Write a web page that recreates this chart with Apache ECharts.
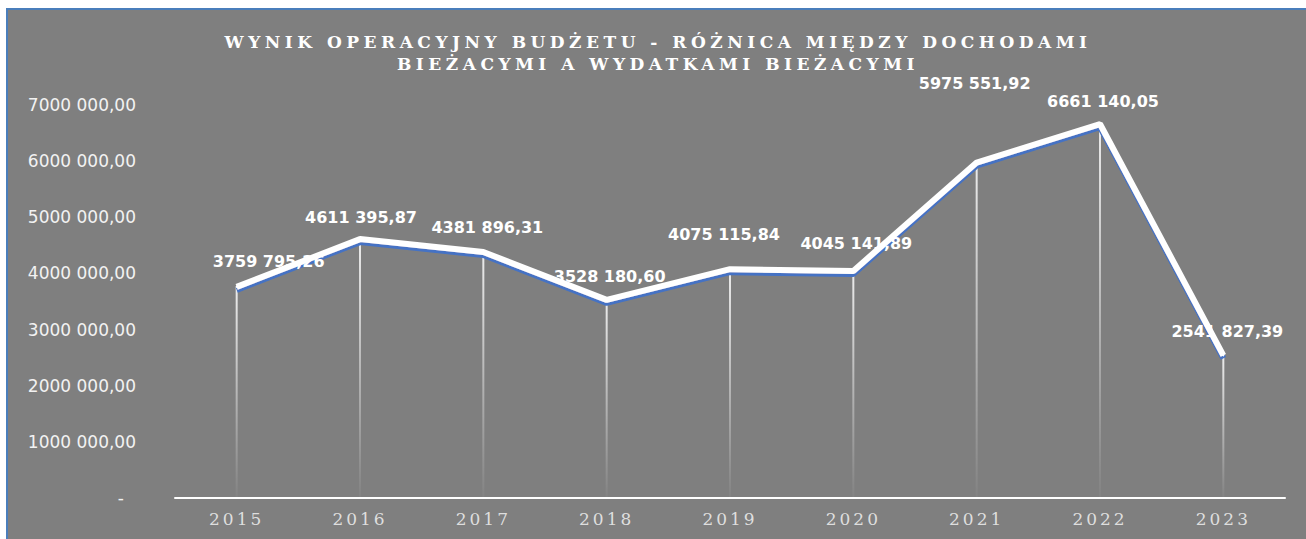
<!DOCTYPE html>
<html>
<head>
<meta charset="utf-8">
<script src="https://cdn.jsdelivr.net/npm/echarts@6/dist/echarts.min.js"></script>
<style>
  html, body { margin: 0; padding: 0; background: #ffffff; overflow: hidden; }
  #chart {
    position: absolute; left: 6px; top: 8px;
    width: 1300px; height: 531px;
    border-top: 2px solid #4a7ebb; border-left: 2px solid #4a7ebb;
    background: #7f7f7f;
  }
</style>
</head>
<body>
<div id="chart"></div>
<script>
  // dane z wykresu
  var years = ['2015', '2016', '2017', '2018', '2019', '2020', '2021', '2022', '2023'];
  var wynik = [3759795.26, 4611395.87, 4381896.31, 3528180.60, 4075115.84, 4045141.89, 5975551.92, 6661140.05, 2541827.39];
  // przesuniecia etykiet danych [dx, dy]
  var labelOffsets = [[32, -16], [1, -13], [4, -15], [3, -14], [-6, -26], [3, -18], [-2, -70], [3, -14], [4, -15]];

  function fmt(v) {
    if (v === 0) return '-';
    var n = Math.round(v * 100);
    var dec = String(n % 100).padStart(2, '0');
    var intPart = Math.floor(n / 100);
    var thousands = Math.floor(intPart / 1000);
    var rest = String(intPart % 1000).padStart(3, '0');
    return thousands + ' ' + rest + ',' + dec;
  }

  var myChart = echarts.init(document.getElementById('chart'), null, { renderer: 'svg' });
  myChart.setOption({
    backgroundColor: '#7f7f7f',
    animation: false,
    title: {
      text: 'WYNIK OPERACYJNY BUDŻETU - RÓŻNICA MIĘDZY DOCHODAMI\nBIEŻACYMI A WYDATKAMI BIEŻACYMI',
      left: 'center',
      top: 16,
      textStyle: {
        color: '#ffffff',
        fontFamily: 'DejaVu Serif',
        fontWeight: 'bold',
        fontSize: 17,
        lineHeight: 22
      }
    },
    grid: {
      left: 167,
      right: 23,
      top: 95,
      bottom: 43
    },
    xAxis: {
      type: 'category',
      data: years,
      boundaryGap: true,
      axisLine: { lineStyle: { color: '#ffffff', width: 2 } },
      axisTick: { show: false },
      axisLabel: {
        color: '#dedede',
        fontFamily: 'DejaVu Serif',
        fontSize: 17,
        margin: 12
      }
    },
    yAxis: {
      type: 'value',
      min: 0,
      max: 7000000,
      interval: 1000000,
      splitLine: { show: false },
      axisLine: { show: false },
      axisTick: { show: false },
      axisLabel: {
        color: '#f2f2f2',
        fontFamily: 'DejaVu Sans',
        fontSize: 17,
        margin: 39,
        formatter: function (v) {
          return v === 0 ? '{z|-}' : fmt(v);
        },
        rich: {
          z: { color: '#f2f2f2', fontSize: 17, padding: [0, 12, 0, 0] }
        }
      }
    },
    series: [
      {
        // linie pionowe od punktu do osi
        name: 'linie',
        type: 'bar',
        barWidth: 2,
        data: wynik,
        itemStyle: {
          color: new echarts.graphic.LinearGradient(0, 0, 0, 1, [
            { offset: 0, color: 'rgba(255,255,255,0.85)' },
            { offset: 1, color: 'rgba(255,255,255,0.03)' }
          ])
        },
        silent: true,
        z: 1
      },
      {
        name: 'Wynik',
        type: 'line',
        data: wynik.map(function (v, i) {
          return {
            value: v,
            label: { offset: labelOffsets[i] }
          };
        }),
        symbol: 'circle',
        symbolSize: 2,
        itemStyle: { color: '#ffffff' },
        lineStyle: {
          color: '#ffffff',
          width: 6,
          shadowColor: '#4472c4',
          shadowBlur: 0,
          shadowOffsetY: 3
        },
        label: {
          show: true,
          position: 'top',
          distance: 0,
          color: '#ffffff',
          fontFamily: 'DejaVu Sans',
          fontWeight: 'bold',
          fontSize: 16,
          formatter: function (p) { return fmt(p.value); }
        },
        z: 3
      }
    ]
  });

  // rozstrzelenie liter w tytule i etykietach lat
  function spacing() {
    var texts = document.querySelectorAll('#chart text');
    texts.forEach(function (t) {
      var s = t.textContent;
      if (s.indexOf('WYNIK') === 0 || s.indexOf('BIEŻACYMI A') === 0) {
        t.style.letterSpacing = '4.5px';
      } else if (years.indexOf(s) >= 0) {
        t.style.letterSpacing = '3px';
      }
    });
  }
  spacing();
  myChart.on('finished', spacing);
</script>
</body>
</html>
